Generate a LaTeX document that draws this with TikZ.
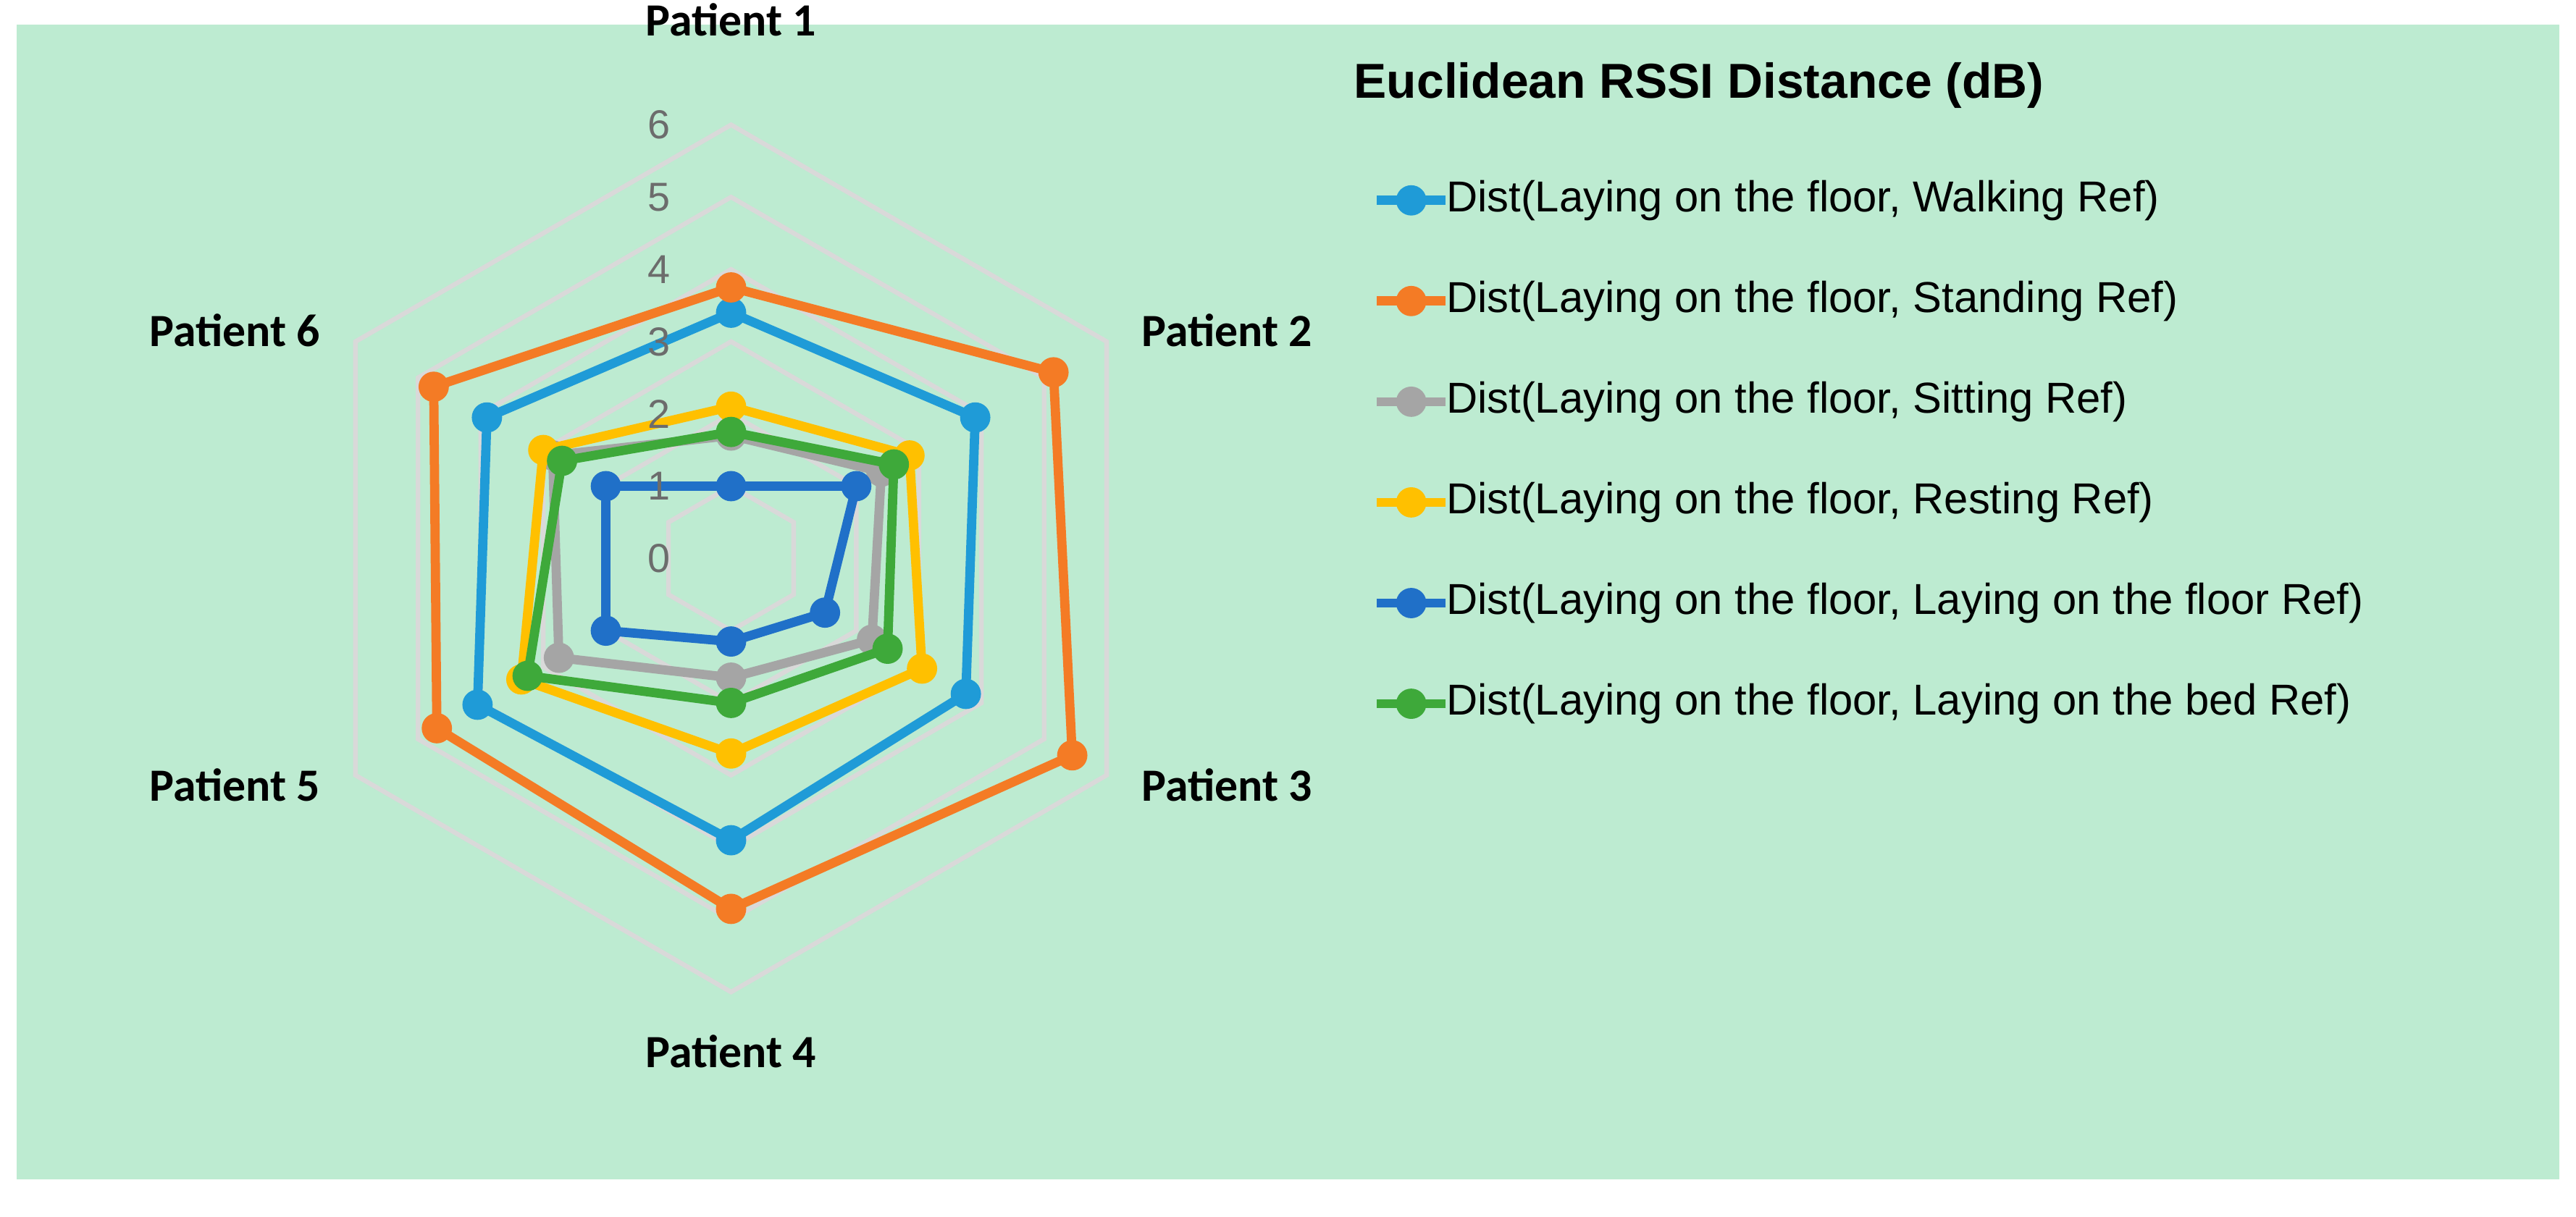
\documentclass[tikz,border=0pt]{standalone}
\usepackage{fontspec}
\setmainfont{Liberation Sans}
\newfontfamily\lblfont{Carlito}
\usetikzlibrary{positioning, calc}

\definecolor{bgcol}{HTML}{BDEBD1}
\definecolor{gridcol}{HTML}{D9D9D9}
\definecolor{cwalk}{HTML}{1F9BD7}
\definecolor{cstand}{HTML}{F47B25}
\definecolor{csit}{HTML}{A5A5A5}
\definecolor{crest}{HTML}{FFC000}
\definecolor{cfloor}{HTML}{2070C8}
\definecolor{cbed}{HTML}{3EA93A}

\tikzset{
  serie/.style={line width=3.2pt, line join=round},
  dot/.style={circle, fill=#1, inner sep=0pt, minimum size=10.5pt},
  patient/.style={font=\lblfont\bfseries\fontsize{16}{18}\selectfont},
  legtext/.style={anchor=west, font=\fontsize{15}{18}\selectfont},
}

% draw one series: colour, six values
\newcommand{\radarline}[2]{%
  \draw[serie, #1] \foreach \v [count=\k] in {#2} {
    \ifnum\k=1 ({445+44*\v*cos(90-60*(\k-1))},{340-44*\v*sin(90-60*(\k-1))})
    \else -- ({445+44*\v*cos(90-60*(\k-1))},{340-44*\v*sin(90-60*(\k-1))})\fi } -- cycle;
  \foreach \v [count=\k] in {#2}
    \node[dot=#1] at ({445+44*\v*cos(90-60*(\k-1))},{340-44*\v*sin(90-60*(\k-1))}) {};
}

\begin{document}
\begin{tikzpicture}[x=0.02cm, y=-0.02cm]
\useasboundingbox (0,0) rectangle (1568,741);
\fill[bgcol] (10,15) rectangle (1558,718);

% grid
\foreach \r in {1,...,6}
  \draw[gridcol, line width=1.6pt] \foreach \k in {0,...,5} {
    \ifnum\k=0 ({445+44*\r*cos(90-60*\k)},{340-44*\r*sin(90-60*\k)})
    \else -- ({445+44*\r*cos(90-60*\k)},{340-44*\r*sin(90-60*\k)})\fi } -- cycle;

% series
\radarline{cwalk}{3.4,3.9,3.75,3.9,4.05,3.9}
\radarline{cstand}{3.75,5.15,5.45,4.85,4.7,4.75}
\radarline{csit}{1.7,2.4,2.25,1.65,2.75,2.85}
\radarline{crest}{2.1,2.85,3.05,2.7,3.35,3.0}
\radarline{cfloor}{1.0,2.0,1.5,1.15,2.0,2.0}
\radarline{cbed}{1.75,2.6,2.5,2.0,3.25,2.7}

% scale labels
\foreach \r in {0,...,6}
  \node[text=gray!85!black, font=\fontsize{14}{16}\selectfont] at (401,{340-44*\r}) {\r};

% axis labels
\node[patient] (p1) at (445,12) {Patient 1};
\node[patient] (p2) at (747,201) {Patient 2};
\node[patient] (p3) at (747,478) {Patient 3};
\node[patient] (p4) at (445,640) {Patient 4};
\node[patient] (p5) at (143,478) {Patient 5};
\node[patient] (p6) at (143,201) {Patient 6};

% legend
\node[anchor=west, font=\bfseries\fontsize{17}{20}\selectfont] (title) at (818,52) {Euclidean RSSI Distance (dB)};
\foreach \c/\t [count=\i] in {cwalk/Walking Ref, cstand/Standing Ref, csit/Sitting Ref,
    crest/Resting Ref, cfloor/Laying on the floor Ref, cbed/Laying on the bed Ref} {
  \coordinate (l\i) at (838,{122+61.3*(\i-1)});
  \coordinate (r\i) at (880,{122+61.3*(\i-1)});
  \draw[serie, \c] (l\i) -- (r\i);
  \node[dot=\c] at ($(l\i)!0.5!(r\i)$) {};
  \node[legtext, inner sep=0pt] at (r\i) {Dist(Laying on the floor, \t)};
}
\end{tikzpicture}
\end{document}
